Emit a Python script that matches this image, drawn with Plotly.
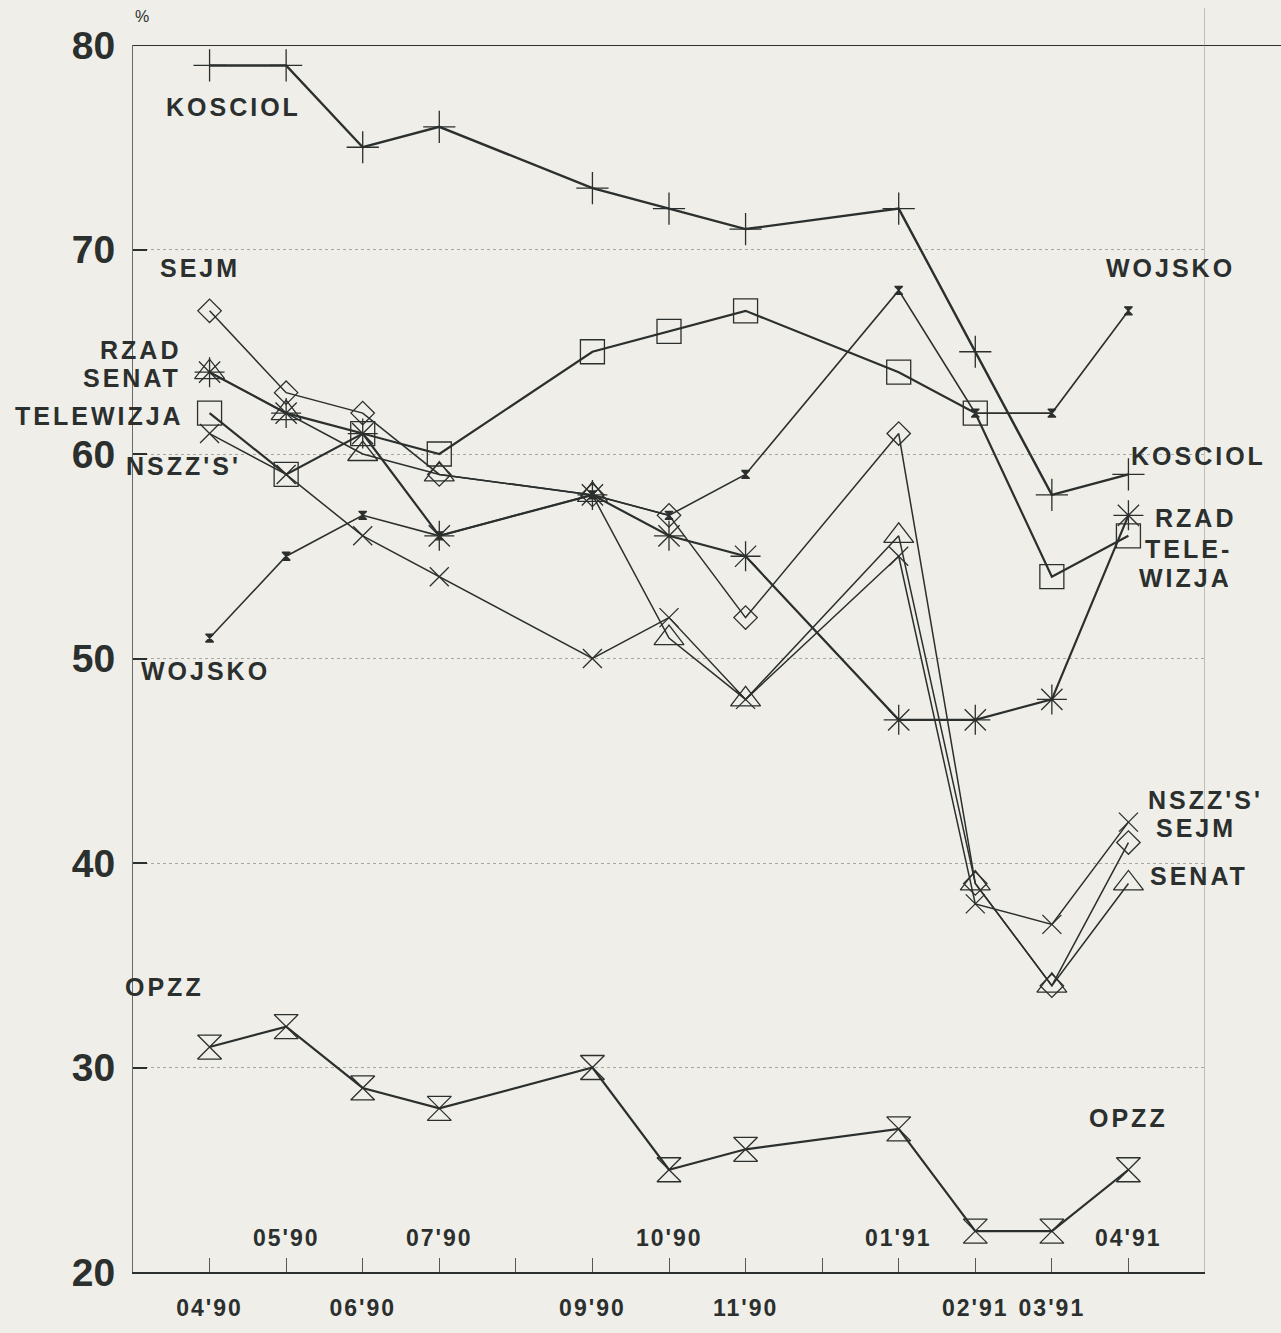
import plotly.graph_objects as go

# ---- data ----
months = ["04'90", "05'90", "06'90", "07'90", "09'90", "10'90", "11'90",
          "01'91", "02'91", "03'91", "04'91"]
month_idx = [0, 1, 2, 3, 5, 6, 7, 9, 10, 11, 12]
label_below = ["04'90", "06'90", "09'90", "11'90", "02'91", "03'91"]
label_above = ["05'90", "07'90", "10'90", "01'91", "04'91"]
y_ticks = [20, 30, 40, 50, 60, 70, 80]

kosciol = [79, 79, 75, 76, 73, 72, 71, 72, 65, 58, 59]
wojsko = [51, 55, 57, 56, 58, 57, 59, 68, 62, 62, 67]
sejm = [67, 63, 62, 59, 58, 57, 52, 61, 39, 34, 41]
senat = [64, 62, 60, 59, 58, 51, 48, 56, 39, 34, 39]
telewizja = [62, 59, 61, 60, 65, 66, 67, 64, 62, 54, 56]
nszz = [61, 59, 56, 54, 50, 52, 48, 55, 38, 37, 42]
rzad = [64, 62, 61, 56, 58, 56, 55, 47, 47, 48, 57]
opzz = [31, 32, 29, 28, 30, 25, 26, 27, 22, 22, 25]

INK = "#2b2f2d"
BG = "#efeee9"
FONT = "Liberation Sans"


def spaced(t, px=3):
    return '<span style="letter-spacing:%dpx">%s</span>' % (px, t)


series = [
    ("KOSCIOL", kosciol, "cross-thin-open", 23, 2.4),
    ("WOJSKO", wojsko, "hourglass", 8, 1.6),
    ("TELEWIZJA", telewizja, "square-open", 24, 2.2),
    ("SEJM", sejm, "diamond-open", 18, 1.5),
    ("SENAT", senat, "triangle-up-open", 26, 1.5),
    ("NSZZ'S'", nszz, "x-thin-open", 19, 1.5),
    ("RZAD", rzad, "asterisk-open", 25, 2.2),
    ("OPZZ", opzz, "hourglass-open", 24, 2.2),
]

fig = go.Figure()
for name, vals, sym, size, lw in series:
    fig.add_trace(go.Scatter(
        x=month_idx, y=vals, mode="lines+markers", name=name,
        line=dict(color=INK, width=lw),
        marker=dict(symbol=sym, size=size, color=INK,
                    line=dict(color=INK, width=1.3)),
        showlegend=False, hoverinfo="skip"))

# ---- series labels ----
labels = [
    ("KOSCIOL", 0.31, 76.99, "center"),
    ("SEJM", -0.13, 69.09, "center"),
    ("RZAD", -0.35, 65.11, "right"),
    ("SENAT", -0.35, 63.7, "right"),
    ("TELEWIZJA", -0.31, 61.86, "right"),
    ("NSZZ'S'", -0.34, 59.39, "center"),
    ("WOJSKO", -0.05, 49.4, "center"),
    ("OPZZ", -0.59, 33.93, "center"),
    ("WOJSKO", 12.55, 69.09, "center"),
    ("KOSCIOL", 12.92, 59.92, "center"),
    ("RZAD", 12.87, 56.87, "center"),
    ("TELE-", 12.79, 55.36, "center"),
    ("WIZJA", 12.75, 53.96, "center"),
    ("NSZZ'S'", 13.0, 43.1, "center"),
    ("SEJM", 12.88, 41.69, "center"),
    ("SENAT", 12.92, 39.36, "center"),
    ("OPZZ", 12.0, 27.52, "center"),
]
annotations = []
for text, x, y, xa in labels:
    annotations.append(dict(text=spaced(text), x=x, y=y, xref="x", yref="y",
                            xanchor=xa, yanchor="middle", showarrow=False,
                            font=dict(family=FONT, size=25, color=INK, weight="bold")))

for lab in label_above:
    annotations.append(dict(text=spaced(lab, 2), x=month_idx[months.index(lab)], y=21.66,
                            xref="x", yref="y", showarrow=False,
                            xanchor="center", yanchor="middle",
                            font=dict(family=FONT, size=23, color=INK, weight="bold")))

annotations.append(dict(text="%", x=0.0, y=1.023, xref="paper", yref="paper",
                        xanchor="left", yanchor="middle", showarrow=False,
                        font=dict(family=FONT, size=16, color=INK)))

tick_vals = list(range(0, 13))
tick_text = []
for t in tick_vals:
    if t in month_idx and months[month_idx.index(t)] in label_below:
        tick_text.append(spaced(months[month_idx.index(t)], 2))
    else:
        tick_text.append("")

shapes = [
    dict(type="line", xref="paper", yref="y", x0=0, x1=1.08, y0=80, y1=80,
         line=dict(color=INK, width=2)),
    dict(type="line", xref="x", yref="paper", x0=13, x1=13, y0=0, y1=1.03,
         line=dict(color="#8f8f8a", width=1)),
]

fig.update_layout(
    width=1281, height=1333,
    margin=dict(l=133, r=76, t=45, b=51),
    paper_bgcolor=BG, plot_bgcolor=BG,
    annotations=annotations, shapes=shapes,
    xaxis=dict(range=[-1, 13], tickvals=tick_vals, ticktext=tick_text,
               showgrid=False, zeroline=False, showline=True,
               linecolor=INK, linewidth=2, ticks="inside", ticklen=14,
               tickcolor="#55575a", tickwidth=1, ticklabelstandoff=14,
               tickfont=dict(family=FONT, size=23, color=INK, weight="bold")),
    yaxis=dict(range=[20, 80], tickvals=y_ticks, showgrid=True,
               gridcolor="#a8a8a2", griddash="dot", gridwidth=1,
               zeroline=False, showline=True, linecolor="#66686a", linewidth=1,
               ticks="inside", ticklen=14, tickcolor=INK, tickwidth=1.5,
               ticklabelstandoff=9,
               tickfont=dict(family=FONT, size=39, color=INK, weight="bold")),
)

fig.write_html("out.html",
               config={"displayModeBar": False},
               post_script="document.body.style.margin='0';"
                           "document.body.style.background='%s';" % BG)
